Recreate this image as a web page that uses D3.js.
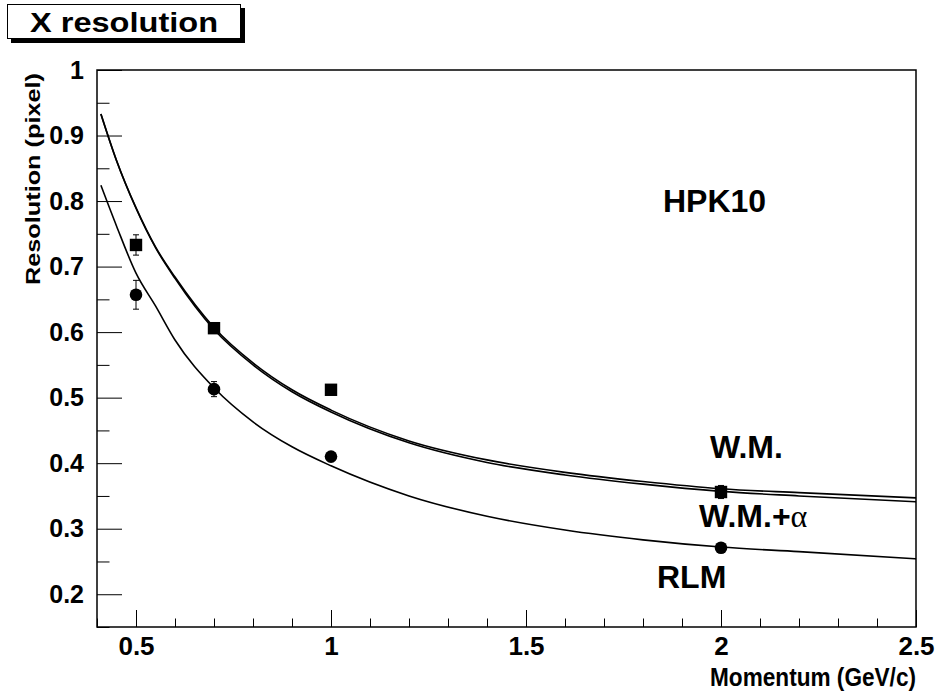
<!DOCTYPE html>
<html>
<head>
<meta charset="utf-8">
<script src="https://cdn.jsdelivr.net/npm/d3@7"></script>
<style>
  html, body { margin: 0; padding: 0; background: #fff; }
  svg { display: block; }
  text { font-family: "Liberation Sans", Arial, Helvetica, sans-serif; }
</style>
</head>
<body>
<svg id="chart" width="941" height="694"></svg>
<script>
// ---------------- data ----------------
const chartTitle = "X resolution";
const xAxisTitle = "Momentum (GeV/c)";
const yAxisTitle = "Resolution (pixel)";
const detectorLabel = "HPK10";

const xMajorTicks = [0.5, 1, 1.5, 2, 2.5];
const xTickLabels = ["0.5", "1", "1.5", "2", "2.5"];
const xMinorTicks = [0.4, 0.6, 0.7, 0.8, 0.9, 1.1, 1.2, 1.3, 1.4, 1.6, 1.7, 1.8, 1.9, 2.1, 2.2, 2.3, 2.4];
const yMajorTicks = [0.2, 0.3, 0.4, 0.5, 0.6, 0.7, 0.8, 0.9, 1.0];
const yTickLabels = ["0.2", "0.3", "0.4", "0.5", "0.6", "0.7", "0.8", "0.9", "1"];
const yMinorTicks = [0.15, 0.25, 0.35, 0.45, 0.55, 0.65, 0.75, 0.85, 0.95];

// measured points
const momentum = [0.5, 0.7, 1.0, 2.0];
const wmValues = [0.733, 0.606, 0.512, 0.356];
const wmErrors = [0.0155, 0.005, 0.005, 0.01];
const rlmValues = [0.657, 0.513, 0.410, 0.271];
const rlmErrors = [0.022, 0.0115, 0.005, 0.005];

// fitted curves
const curveX = [0.41, 0.45, 0.5, 0.55, 0.6, 0.7, 0.8, 0.9, 1.0, 1.2, 1.4, 1.6, 1.8, 2.0, 2.2, 2.5];
const wmCurve = [0.933, 0.862, 0.790, 0.730, 0.684, 0.607, 0.553, 0.512, 0.481, 0.434, 0.405, 0.386, 0.372, 0.361, 0.355, 0.347];
const wmAlphaCurve = [0.933, 0.862, 0.789, 0.729, 0.682, 0.604, 0.550, 0.509, 0.478, 0.431, 0.401, 0.382, 0.368, 0.357, 0.350, 0.341];
const rlmCurve = [0.824, 0.762, 0.690, 0.640, 0.588, 0.515, 0.463, 0.425, 0.396, 0.350, 0.319, 0.298, 0.283, 0.272, 0.265, 0.254];

const curveLabels = ["W.M.", "W.M.+", "RLM"];

// ---------------- drawing ----------------
const svg = d3.select("#chart");
const plotL = 97, plotR = 916, plotT = 70, plotB = 627;

const x = d3.scaleLinear().domain([0.4, 2.5]).range([plotL, plotR]);
const y = d3.scaleLinear().domain([0.15, 1.0]).range([plotB, plotT]);

// title box with shadow
svg.append("rect").attr("x", 11).attr("y", 8).attr("width", 234).attr("height", 35).attr("fill", "#000");
svg.append("rect").attr("x", 7.5).attr("y", 4.5).attr("width", 233).attr("height", 34)
  .attr("fill", "#fff").attr("stroke", "#000").attr("stroke-width", 1);
svg.append("text").attr("x", 30).attr("y", 32)
  .attr("font-size", 27).attr("font-weight", "bold")
  .attr("textLength", 188).attr("lengthAdjust", "spacingAndGlyphs").text(chartTitle);

// axes
const gx = svg.append("g").attr("transform", `translate(0,${plotB})`);
gx.call(d3.axisBottom(x).tickValues(xMinorTicks).tickSizeInner(-8.5).tickSizeOuter(0).tickFormat(""));
const gx2 = svg.append("g").attr("transform", `translate(0,${plotB})`);
gx2.call(d3.axisBottom(x).tickValues(xMajorTicks).tickSizeInner(-17).tickSizeOuter(0).tickPadding(9.5)
  .tickFormat((d, i) => xTickLabels[i]));

const gy = svg.append("g").attr("transform", `translate(${plotL},0)`);
gy.call(d3.axisLeft(y).tickValues(yMinorTicks).tickSizeInner(-12.5).tickSizeOuter(0).tickFormat(""));
const gy2 = svg.append("g").attr("transform", `translate(${plotL},0)`);
gy2.call(d3.axisLeft(y).tickValues(yMajorTicks).tickSizeInner(-25).tickSizeOuter(0).tickPadding(13)
  .tickFormat((d, i) => yTickLabels[i]));

svg.selectAll(".domain").remove();
svg.selectAll(".tick line").attr("stroke", "#000").attr("stroke-width", 1);
svg.selectAll(".tick text").attr("font-family", "'Liberation Sans', Arial, sans-serif")
  .attr("font-weight", "bold").attr("fill", "#000");
gx2.selectAll(".tick text").attr("font-size", 26);
gy2.selectAll(".tick text").attr("font-size", 25);

// frame
svg.append("rect").attr("x", plotL).attr("y", plotT).attr("width", plotR - plotL).attr("height", plotB - plotT)
  .attr("fill", "none").attr("stroke", "#000").attr("stroke-width", 1.5);

// axis titles
svg.append("text").attr("x", 710).attr("y", 686)
  .attr("font-size", 25).attr("font-weight", "bold")
  .attr("textLength", 206).attr("lengthAdjust", "spacingAndGlyphs").text(xAxisTitle);
svg.append("text").attr("transform", "translate(40,285) rotate(-90)")
  .attr("font-size", 21).attr("font-weight", "bold")
  .attr("textLength", 212).attr("lengthAdjust", "spacingAndGlyphs").text(yAxisTitle);

// curves
const line = d3.line().x(d => x(d[0])).y(d => y(d[1])).curve(d3.curveMonotoneX);
[wmCurve, wmAlphaCurve, rlmCurve].forEach(c => {
  svg.append("path").datum(curveX.map((v, i) => [v, c[i]]))
    .attr("d", line).attr("fill", "none").attr("stroke", "#000").attr("stroke-width", 1.6);
});

// error bars
function errorBars(vals, errs) {
  const g = svg.append("g").attr("stroke", "#000").attr("stroke-width", 1);
  momentum.forEach((m, i) => {
    const cx = x(m), y1 = y(vals[i] + errs[i]), y2 = y(vals[i] - errs[i]);
    g.append("line").attr("x1", cx).attr("x2", cx).attr("y1", y1).attr("y2", y2);
    g.append("line").attr("x1", cx - 3).attr("x2", cx + 3).attr("y1", y1).attr("y2", y1);
    g.append("line").attr("x1", cx - 3).attr("x2", cx + 3).attr("y1", y2).attr("y2", y2);
  });
}
errorBars(wmValues, wmErrors);
errorBars(rlmValues, rlmErrors);

// markers
svg.append("g").selectAll("rect").data(momentum).join("rect")
  .attr("x", d => x(d) - 6.2).attr("y", (d, i) => y(wmValues[i]) - 6.2)
  .attr("width", 12.4).attr("height", 12.4).attr("fill", "#000");
svg.append("g").selectAll("circle").data(momentum).join("circle")
  .attr("cx", d => x(d)).attr("cy", (d, i) => y(rlmValues[i])).attr("r", 6.3).attr("fill", "#000");

// labels
svg.append("text").attr("x", 663).attr("y", 212).attr("font-size", 32).attr("font-weight", "bold").text(detectorLabel);
svg.append("text").attr("x", 710).attr("y", 458).attr("font-size", 32).attr("font-weight", "bold").text(curveLabels[0]);
const t2 = svg.append("text").attr("x", 699).attr("y", 527).attr("font-size", 32).attr("font-weight", "bold");
t2.append("tspan").text(curveLabels[1]);
t2.append("tspan").attr("font-family", "'Liberation Serif', 'DejaVu Serif', serif").attr("font-weight", "normal").text("α");
svg.append("text").attr("x", 657).attr("y", 588).attr("font-size", 32).attr("font-weight", "bold").text(curveLabels[2]);
</script>
</body>
</html>
